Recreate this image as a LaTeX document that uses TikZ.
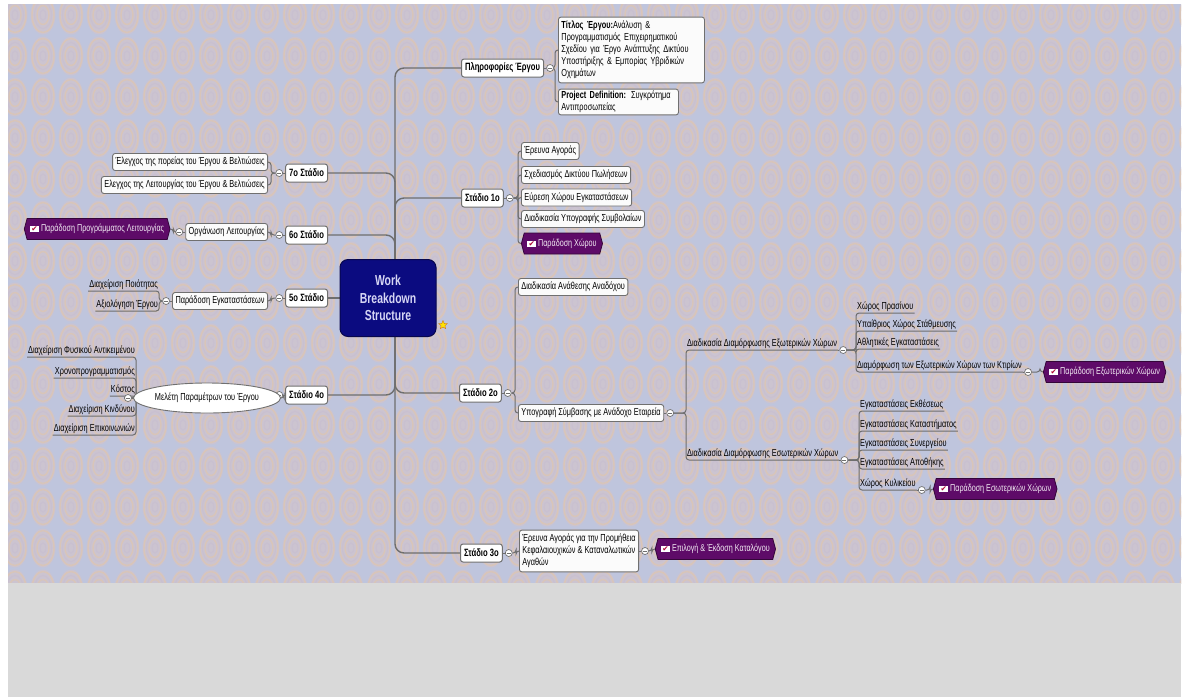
\documentclass[tikz,border=0pt]{standalone}
\usepackage{fontspec}
\setmainfont{Liberation Sans}[FakeStretch=0.72]
\newfontfamily\symfont{DejaVu Sans}
\usetikzlibrary{shapes.geometric,shapes.symbols,calc}

\definecolor{bgblue}{HTML}{BFC5DD}
\definecolor{cellfill}{HTML}{CCC4D0}
\definecolor{ringA}{HTML}{D9C5B8}
\definecolor{ringB}{HTML}{C9C0D0}
\definecolor{band}{HTML}{D9D9D9}
\definecolor{navy}{HTML}{0B0B80}
\definecolor{navytext}{HTML}{D6D6F4}
\definecolor{plum}{HTML}{5E0B68}
\definecolor{edgegray}{HTML}{6E6E6E}
\definecolor{boxline}{HTML}{707070}

\pgfdeclarelayer{pattern}
\pgfdeclarelayer{links}
\pgfsetlayers{pattern,links,main}

% small white check box used inside the milestone tags
\newcommand\tickbox{{\setlength\fboxsep{0.7pt}\colorbox{white}{\makebox[7.5pt][c]{\color{plum!50!red}\symfont\fontsize{7.5}{7.5}\selectfont ✔}}}}

\tikzset{
  rootbox/.style={rounded corners=8pt, fill=navy, draw=navy!60!black, line width=1pt,
    text=navytext, font=\bfseries\fontsize{14.5}{17.5}\selectfont, align=center,
    minimum width=96pt, minimum height=77pt, inner sep=0pt},
  stage/.style={draw=boxline, fill=white, rounded corners=2.5pt, line width=1pt,
    font=\bfseries\fontsize{10.6}{12}\selectfont, inner xsep=3.5pt, inner ysep=2pt,
    minimum height=18pt},
  topic/.style={draw=boxline, fill=white!97!gray, rounded corners=2.5pt, line width=0.9pt,
    font=\fontsize{10.2}{12}\selectfont, inner xsep=3pt, inner ysep=2pt,
    minimum height=17pt},
  leaf/.style={inner xsep=1pt, inner ysep=1.5pt, font=\fontsize{10.2}{12}\selectfont},
  deliver/.style={signal, signal to=west and east, signal pointer angle=150,
    fill=plum, draw=plum!55!black, line width=0.8pt, text=white!92!plum,
    font=\fontsize{10}{12}\selectfont, inner xsep=3pt, inner ysep=2pt, minimum height=21pt},
  fold/.style={circle, draw=boxline, fill=white, minimum size=7pt, inner sep=0pt, line width=0.7pt,
    path picture={\draw[boxline, line width=0.7pt]
      ([xshift=-2pt]path picture bounding box.center) -- ([xshift=2pt]path picture bounding box.center);}},
  link/.style={draw=edgegray, line width=1pt, rounded corners=3pt},
  trunk/.style={draw=edgegray, line width=1.4pt, rounded corners=9pt},
}

\begin{document}
\begin{tikzpicture}[x=1pt, y=-1pt]
\useasboundingbox (0,0) rectangle (1185,697);

% ---------- background: patterned sheet and grey band ----------
\begin{pgfonlayer}{pattern}
  \fill[white] (0,0) rectangle (1185,697);
  \fill[bgblue] (8,4) rectangle (1181,583);
  \begin{scope}
    \clip (8,4) rectangle (1181,583);
    \foreach \i in {0,...,42} {
      \foreach \j in {0,...,14} {
        \pgfmathsetmacro\cx{15+28*\i}
        \pgfmathsetmacro\cy{15+41*\j}
        \fill[cellfill] (\cx,\cy) ellipse (12.5 and 19.5);
        \draw[ringA, line width=1.4pt] (\cx,\cy) ellipse (11 and 17.5) (\cx,\cy) ellipse (6 and 9.5);
        \draw[ringB, line width=1.1pt] (\cx,\cy) ellipse (8.5 and 13.5) (\cx,\cy) ellipse (3 and 5);
      }
    }
  \end{scope}
  \fill[band] (8,583) rectangle (1181,697);
\end{pgfonlayer}

% ---------- central topic ----------
\node[rootbox] (wbs) at (388,298) {Work\\Breakdown\\Structure};
\node[star, star points=5, star point ratio=2.2, fill=yellow!85!orange, draw=orange!80!black,
  line width=0.3pt, minimum size=9pt, inner sep=0pt] (flag) at (443,325) {};
\coordinate (hub) at (395,298);

% ---------- project information ----------
\node[stage, anchor=west] (info) at (461,68) {Πληροφορίες Έργου};
\node[fold] (finfo) at ($(info.east)+(6,0)$) {};
\node[topic, anchor=west, align=left, text width=140pt, inner ysep=4pt] (title) at (558,50)
  {\textbf{Τίτλος Έργου:}Ανάλυση \&\\Προγραμματισμός Επιχειρηματικού\\Σχεδίου για Έργο Ανάπτυξης Δικτύου\\Υποστήριξης \& Εμπορίας Υβριδικών\\Οχημάτων};
\node[topic, anchor=west, align=left, text width=114pt] (pdef) at (558,102)
  {\textbf{Project Definition:} Συγκρότημα\\Αντιπροσωπείας};

% ---------- stage 1 ----------
\node[stage, anchor=west] (s1) at (461,198) {Στάδιο 1ο};
\node[fold] (f1) at ($(s1.east)+(6,0)$) {};
\node[topic, anchor=west] (s1a) at (521,151) {Έρευνα Αγοράς};
\node[topic, anchor=west] (s1b) at (521,175) {Σχεδιασμός Δικτύου Πωλήσεων};
\node[topic, anchor=west] (s1c) at (521,197.5) {Εύρεση Χώρου Εγκαταστάσεων};
\node[topic, anchor=west] (s1d) at (521,219) {Διαδικασία Υπογραφής Συμβολαίων};
\node[deliver, anchor=west] (s1e) at (521,243.5) {\tickbox\ Παράδοση Χώρου};

% ---------- stage 2 ----------
\node[stage, anchor=west] (s2) at (459,393) {Στάδιο 2ο};
\node[fold] (f2) at ($(s2.east)+(6,0)$) {};
\node[topic, anchor=west] (s2a) at (518,287) {Διαδικασία Ανάθεσης Αναδόχου};
\node[topic, anchor=west] (s2b) at (518,413) {Υπογραφή Σύμβασης με Ανάδοχο Εταιρεία};
\node[fold] (f2b) at ($(s2b.east)+(6,0)$) {};

\node[leaf, anchor=south west] (ext) at (686,350) {Διαδικασία Διαμόρφωσης Εξωτερικών Χώρων};
\node[fold] (fext) at ($(ext.south east)+(5,0)$) {};
\node[leaf, anchor=south west] (ext1) at (856,313) {Χώρος Πρασίνου};
\node[leaf, anchor=south west] (ext2) at (856,331) {Υπαίθριος Χώρος Στάθμευσης};
\node[leaf, anchor=south west] (ext3) at (856,349) {Αθλητικές Εγκαταστάσεις};
\node[leaf, anchor=south west] (ext4) at (856,372) {Διαμόρφωση των Εξωτερικών Χώρων των Κτιρίων};
\node[fold] (fext4) at ($(ext4.south east)+(5,0)$) {};
\node[deliver, anchor=west] (extd) at (1043,372) {\tickbox\ Παράδοση Εξωτερικών Χώρων};

\node[leaf, anchor=south west] (int) at (686,460) {Διαδικασία Διαμόρφωσης Εσωτερικών Χώρων};
\node[fold] (fint) at ($(int.south east)+(5,0)$) {};
\node[leaf, anchor=south west] (int1) at (859,411) {Εγκαταστάσεις Εκθέσεως};
\node[leaf, anchor=south west] (int2) at (859,431) {Εγκαταστάσεις Καταστήματος};
\node[leaf, anchor=south west] (int3) at (859,450) {Εγκαταστάσεις Συνεργείου};
\node[leaf, anchor=south west] (int4) at (859,469) {Εγκαταστάσεις Αποθήκης};
\node[leaf, anchor=south west] (int5) at (859,490) {Χώρος Κυλικείου};
\node[fold] (fint5) at ($(int5.south east)+(5,0)$) {};
\node[deliver, anchor=west] (intd) at (933,489) {\tickbox\ Παράδοση Εσωτερικών Χώρων};

% ---------- stage 3 ----------
\node[stage, anchor=west] (s3) at (460,553) {Στάδιο 3ο};
\node[fold] (f3) at ($(s3.east)+(6,0)$) {};
\node[topic, anchor=west, align=left, inner ysep=4pt] (s3a) at (519,551)
  {Έρευνα Αγοράς για την Προμήθεια\\Κεφαλαιουχικών \& Καταναλωτικών\\Αγαθών};
\node[fold] (f3a) at ($(s3a.east)+(6,0)$) {};
\node[deliver, anchor=west] (s3d) at ($(f3a.east)+(6,-2)$) {\tickbox\ Επιλογή \& Έκδοση Καταλόγου};

% ---------- stage 7 ----------
\node[stage, anchor=east] (s7) at (328,173) {7ο Στάδιο};
\node[fold] (f7) at ($(s7.west)+(-6,0)$) {};
\node[topic, anchor=east] (s7a) at (268,162) {Έλεγχος της πορείας του Έργου \& Βελτιώσεις};
\node[topic, anchor=east] (s7b) at (268,185) {Ελεγχος της Λειτουργίας του Έργου \& Βελτιώσεις};

% ---------- stage 6 ----------
\node[stage, anchor=east] (s6) at (328,235) {6ο Στάδιο};
\node[fold] (f6) at ($(s6.west)+(-6,0)$) {};
\node[topic, anchor=east] (s6a) at (268,232) {Οργάνωση Λειτουργίας};
\node[fold] (f6a) at ($(s6a.west)+(-6,0)$) {};
\node[deliver, anchor=east] (s6d) at ($(f6a.west)+(-5,-3)$) {\tickbox\ Παράδοση Προγράμματος Λειτουργίας};

% ---------- stage 5 ----------
\node[stage, anchor=east] (s5) at (328,298) {5ο Στάδιο};
\node[fold] (f5) at ($(s5.west)+(-6,0)$) {};
\node[topic, anchor=east] (s5a) at (268,301) {Παράδοση Εγκαταστάσεων};
\node[fold] (f5a) at ($(s5a.west)+(-6,0)$) {};
\node[leaf, anchor=south east] (s5a1) at ($(f5a.west)+(-3,-10)$) {Διαχείριση Ποιότητας};
\node[leaf, anchor=south east] (s5a2) at ($(f5a.west)+(-3,10)$) {Αξιολόγηση Έργου};

% ---------- stage 4 ----------
\node[stage, anchor=east] (s4) at (328,395) {Στάδιο 4ο};
\node[fold] (f4) at ($(s4.west)+(-6,0)$) {};
\node[ellipse, draw=boxline, fill=white, line width=0.9pt, minimum width=120pt,
  minimum height=30pt, inner sep=0pt, font=\fontsize{10.2}{12}\selectfont] (s4a) at (207,398)
  {Μελέτη Παραμέτρων του Έργου};
\node[fold] (f4a) at ($(s4a.west)+(-5,0)$) {};
\node[leaf, anchor=south east] (s4a1) at (136,357) {Διαχείριση Φυσικού Αντικειμένου};
\node[leaf, anchor=south east] (s4a2) at (136,378) {Χρονοπρογραμματισμός};
\node[leaf, anchor=south east] (s4a3) at (136,396) {Κόστος};
\node[leaf, anchor=south east] (s4a4) at (136,416) {Διαχείριση Κινδύνου};
\node[leaf, anchor=south east] (s4a5) at (136,435) {Διαχείριση Επικοινωνιών};

% ---------- connectors ----------
\begin{pgfonlayer}{links}
  % main branches
  \foreach \n in {info,s1,s2,s3} \draw[trunk] (hub) |- (\n.west);
  \foreach \n in {s7,s6,s4} \draw[trunk] (hub) |- (\n.east);
  \draw[trunk] (wbs.west |- s5.east) -- (s5.east);

  % right side: parent to fold button
  \foreach \p/\f in {info/finfo,s1/f1,s2/f2,s2b/f2b,s3/f3,s3a/f3a}
    \draw[link] (\p.east) -- (\f.west);
  \foreach \p/\f in {ext/fext,ext4/fext4,int/fint,int5/fint5}
    \draw[link] (\p.south east) -- (\f.west);
  % left side: parent to fold button
  \foreach \p/\f in {s7/f7,s6/f6,s6a/f6a,s5/f5,s5a/f5a,s4/f4,s4a/f4a}
    \draw[link] (\p.west) -- (\f.east);

  % boxed children, right side
  \foreach \f/\c in {finfo/title,finfo/pdef,f1/s1a,f1/s1b,f1/s1c,f1/s1d,f1/s1e,
                     f2/s2a,f2/s2b,f3/s3a,f3a/s3d,fext4/extd,fint5/intd}
    \draw[link] (\f.east) -| ([xshift=-3pt]\c.west) -- (\c.west);
  % boxed children, left side
  \foreach \f/\c in {f7/s7a,f7/s7b,f6/s6a,f6a/s6d,f5/s5a,f4/s4a}
    \draw[link] (\f.west) -| ([xshift=3pt]\c.east) -- (\c.east);

  % underlined children, right side
  \foreach \f/\c in {f2b/ext,f2b/int,fext/ext1,fext/ext2,fext/ext3,fext/ext4,
                     fint/int1,fint/int2,fint/int3,fint/int4,fint/int5}
    \draw[link] (\f.east) -| (\c.south west) -- (\c.south east);
  % underlined children, left side
  \foreach \f/\c in {f5a/s5a1,f5a/s5a2,f4a/s4a1,f4a/s4a2,f4a/s4a3,f4a/s4a4,f4a/s4a5}
    \draw[link] (\f.west) -| (\c.south east) -- (\c.south west);
\end{pgfonlayer}
\end{tikzpicture}
\end{document}
